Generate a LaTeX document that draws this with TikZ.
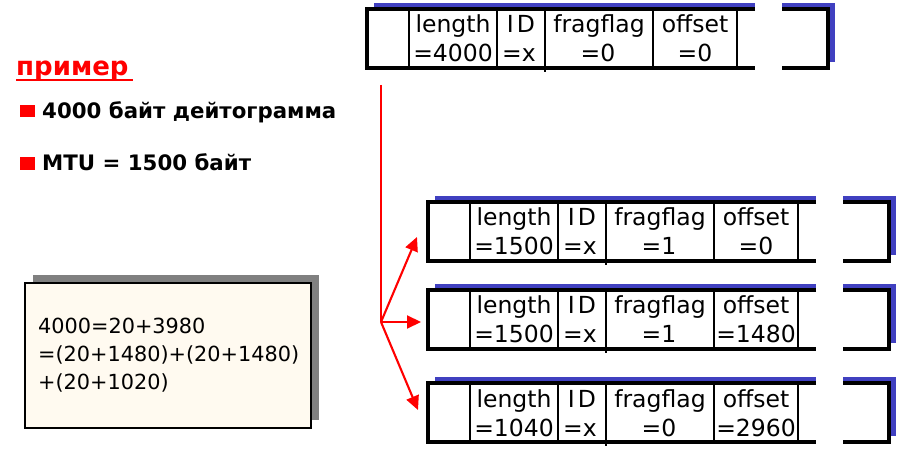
\documentclass[tikz,border=0pt]{standalone}
\usepackage{fontspec}
\setmainfont{DejaVu Sans}
\usetikzlibrary{arrows.meta}
\definecolor{shadowblue}{RGB}{64,64,192}
\definecolor{cream}{RGB}{255,250,240}
\definecolor{boxshadow}{RGB}{128,128,128}
\tikzset{
  pktline/.style={line width=3.1pt},
  divline/.style={line width=2.7pt},
  celltext/.style={anchor=base, inner sep=0pt, font=\fontsize{23.5}{23.5}\selectfont},
  bullettext/.style={anchor=base west, inner sep=0pt, font=\bfseries\fontsize{21.3}{21.3}\selectfont},
  eqtext/.style={anchor=base west, inner sep=0pt, font=\fontsize{20.8}{20.8}\selectfont},
  redline/.style={red, line width=2.6pt},
  redarrow/.style={red, line width=2.1pt, -{Triangle[length=14pt,width=13pt]}}
}
\newcommand\pkt[6]{%
\begin{scope}[shift={(#2,#3)}]
 \fill[shadowblue] (7,-6) rectangle (468,53);
 \fill[white] (388,-8) rectangle (415,62);
 \fill[white] (0,0) rectangle (461,59);
 \node[inner sep=0pt, minimum width=461pt, minimum height=59pt, anchor=north west] (#1) at (0,0) {};
 \draw[pktline] (388,0) -- (0,0) -- (0,59) -- (388,59);
 \draw[pktline] (415,0) -- (461,0) -- (461,59) -- (415,59);
 \draw[divline] (42,0) -- (42,59) (130,0) -- (130,59) (178,0) -- (178,63) (286,0) -- (286,59) (370,0) -- (370,59);
 \node[celltext] (#1len) at (86,24) {length};
 \node[celltext] (#1lenv) at (86,53) {=#4};
 \node[celltext] (#1id) at (154,24) {I\kern3pt D};
 \node[celltext] (#1idv) at (152,53) {=x};
 \node[celltext] (#1ff) at (232,24) {fragflag};
 \node[celltext] (#1ffv) at (231,53) {=#5};
 \node[celltext] (#1off) at (328,24) {offset};
 \node[celltext] (#1offv) at (328,53) {=#6};
\end{scope}}
\begin{document}
\begin{tikzpicture}[x=1pt,y=-1pt]
\useasboundingbox (0,0) rectangle (906,449);
\fill[white] (0,0) rectangle (906,449);
% left side
\node[anchor=base west, inner sep=0pt, text=red, font=\bfseries\fontsize{26}{26}\selectfont] (title) at (16,76) {пример};
\draw[red, line width=2.6pt] (16,80) -- (133,80);
\fill[red] (20,105) rectangle (35,117);
\node[bullettext] (b1) at (42,119) {4000 байт дейтограмма};
\fill[red] (20,157) rectangle (35,170);
\node[bullettext] (b2) at (42,171) {MTU = 1500 байт};
% note box
\fill[boxshadow] (33,275) rectangle (319,420);
\draw[fill=cream, line width=1.2pt] (25,283) rectangle (311,428);
\node[eqtext] (eq1) at (38,334) {4000=20+3980};
\node[eqtext] (eq2) at (38,362) {=(20+1480)+(20+1480)};
\node[eqtext] (eq3) at (38,390) {+(20+1020)};
% packets
\pkt{p0}{367}{9}{4000}{0}{0}
\pkt{f1}{428}{202}{1500}{1}{0}
\pkt{f2}{428}{290}{1500}{1}{1480}
\pkt{f3}{428}{383}{1040}{0}{2960}
% arrows
\coordinate (top) at (381,85);
\coordinate (split) at (381,322);
\coordinate (tip1) at (417,237);
\coordinate (tip2) at (421,322);
\coordinate (tip3) at (418,410);
\draw[redline] (top) -- (split);
\draw[redarrow] (split) -- (tip1);
\draw[redarrow] (split) -- (tip2);
\draw[redarrow] (split) -- (tip3);
\end{tikzpicture}
\end{document}
